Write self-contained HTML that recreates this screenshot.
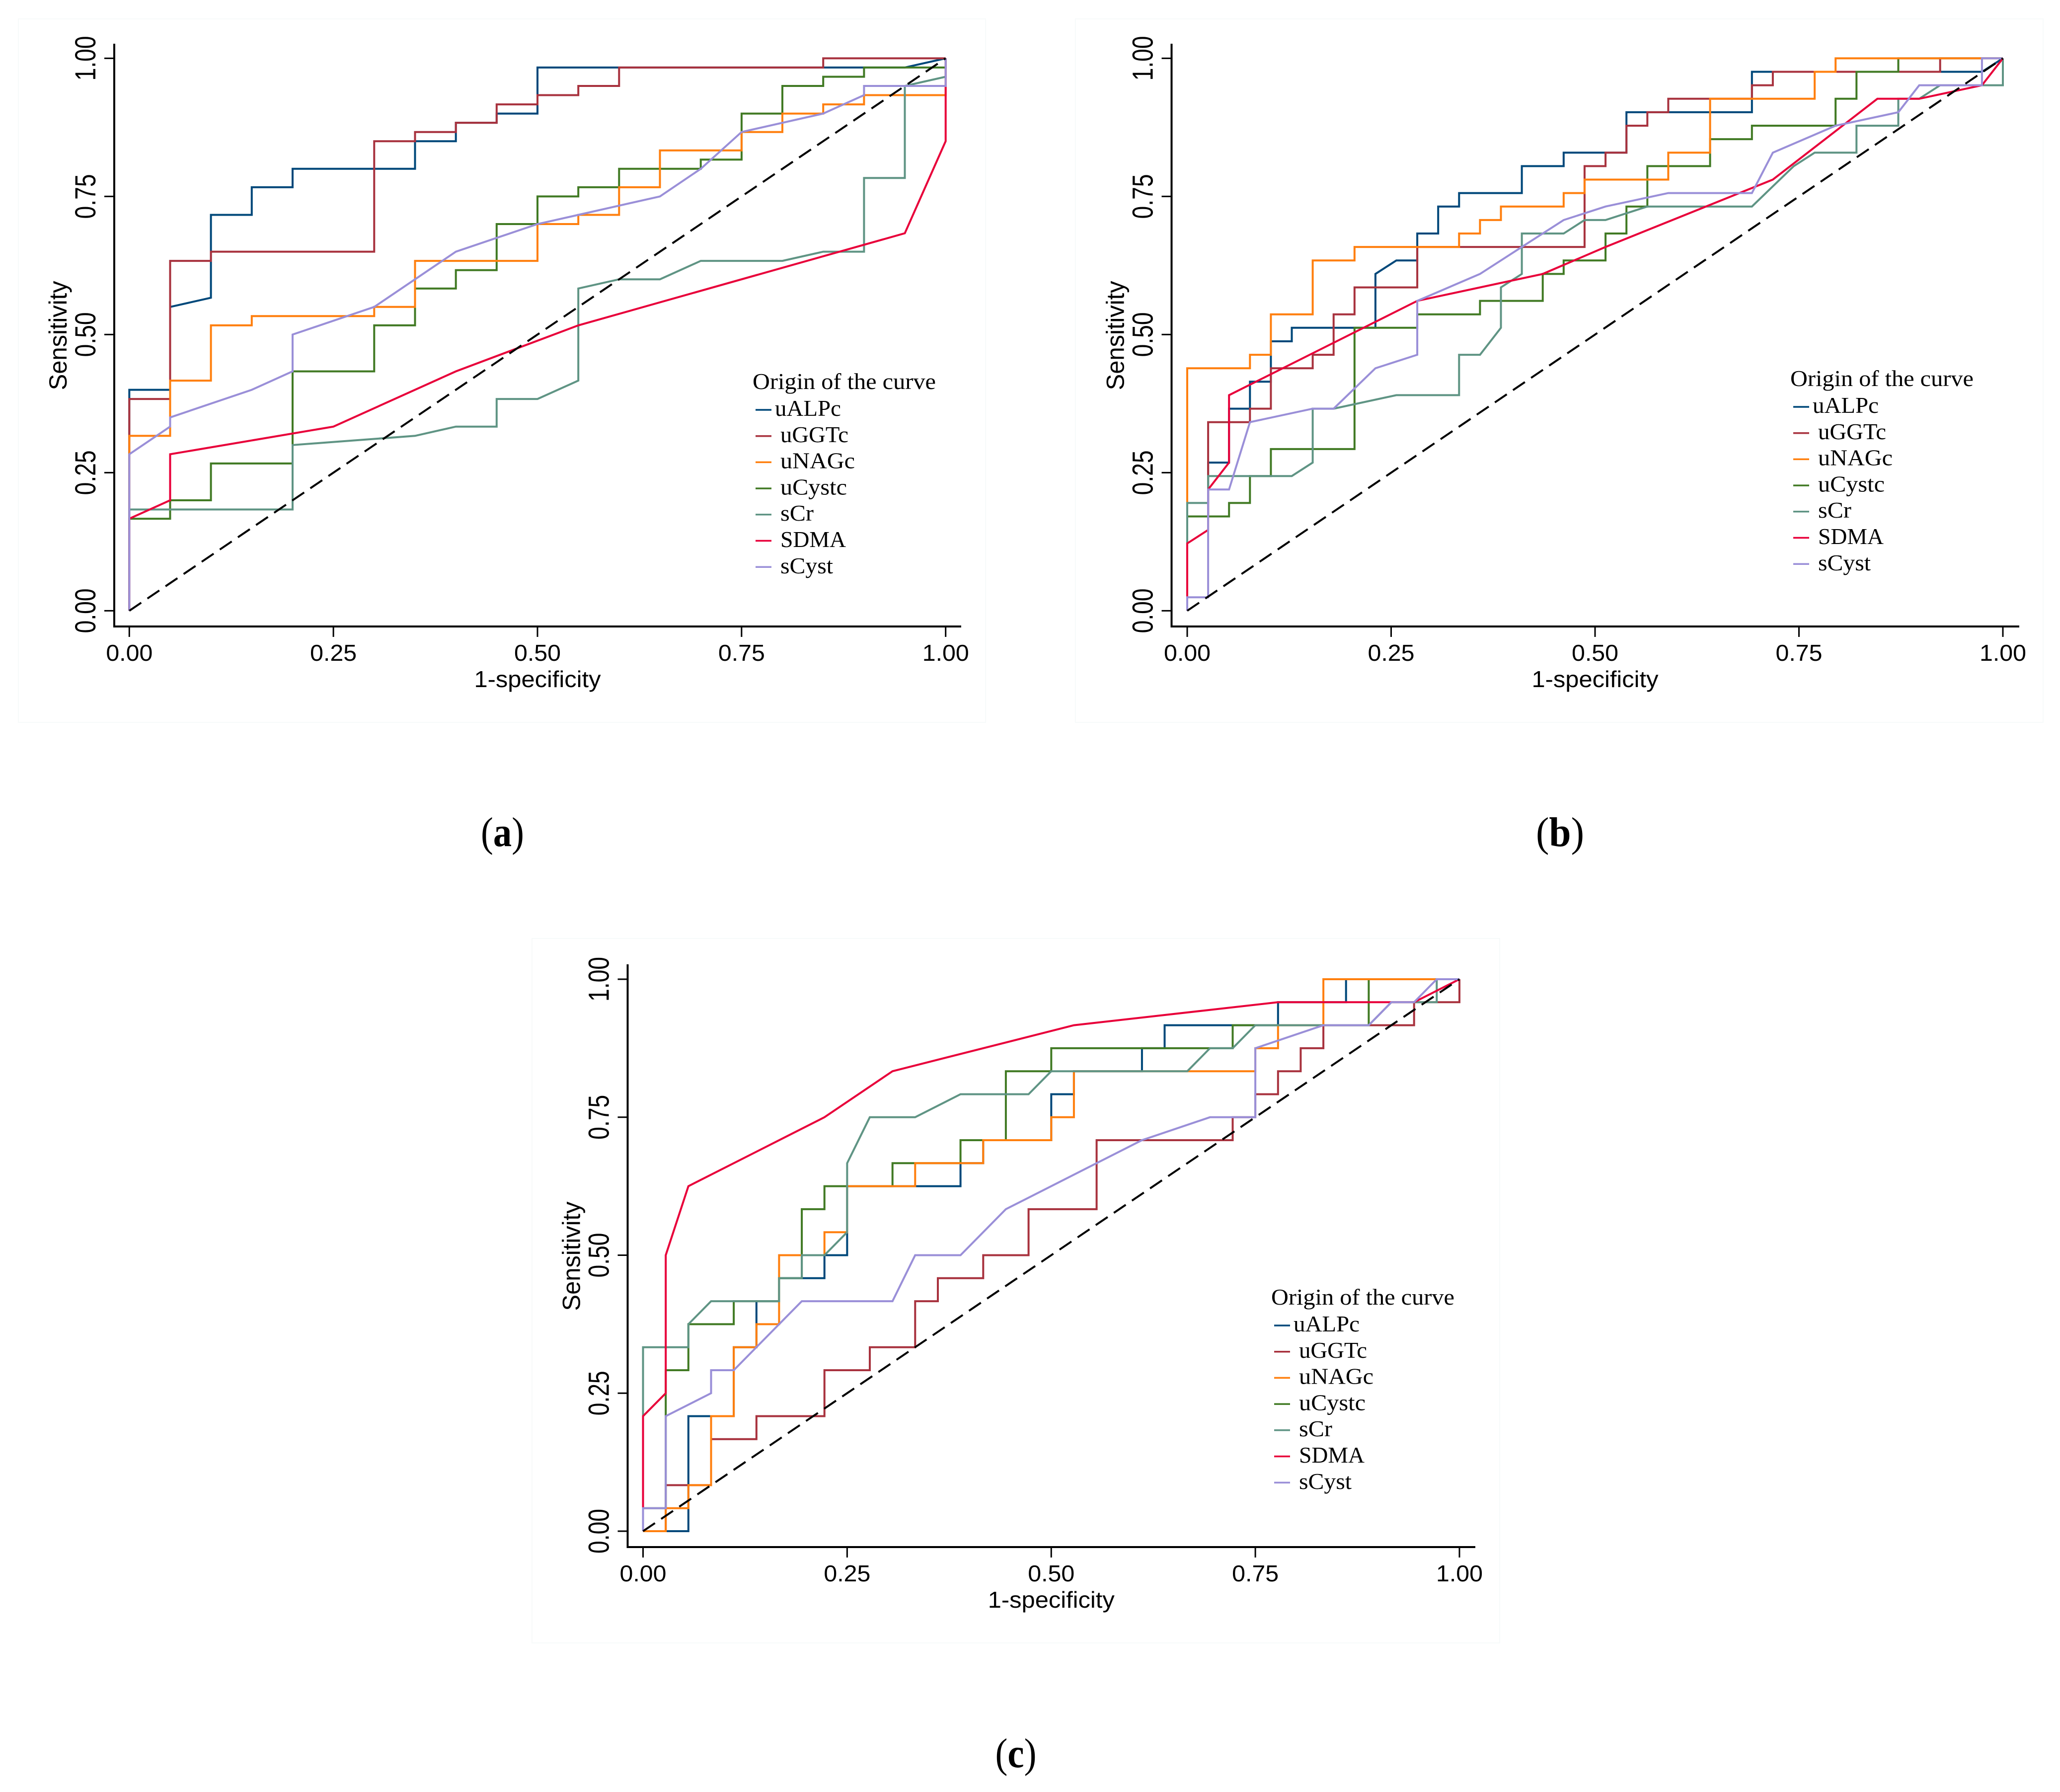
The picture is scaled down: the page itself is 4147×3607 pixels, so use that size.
<!DOCTYPE html>
<html lang="en">
<head>
<meta charset="utf-8">
<title>ROC curves by origin of the curve</title>
<style>
html,body{margin:0;padding:0;background:#fff}
svg{display:block}
.sans{font-family:"Liberation Sans",Arial,sans-serif;fill:#000}
.serif{font-family:"Liberation Serif","Times New Roman",serif;fill:#000}
</style>
</head>
<body>
<svg id="figure" xmlns="http://www.w3.org/2000/svg" width="4147" height="3607" viewBox="0 0 4147 3607">
<rect x="0" y="0" width="4147" height="3607" fill="#ffffff"/>
</svg>
<script>
// Shared labels
const seriesNames = ["uALPc","uGGTc","uNAGc","uCystc","sCr","SDMA","sCyst"];
const xTickValues = [0,0.25,0.5,0.75,1];
const yTickValues = [0,0.25,0.5,0.75,1];
const tickLabels = ["0.00","0.25","0.50","0.75","1.00"];

// Each curve is a list of [false positives, true positives] counts.
// Panel (a): 20 negatives, 60 positives
const aNegatives = 20, aPositives = 60;
const a_uALPc = [[0,0],[0,24],[1,24],[1,33],[2,34],[2,43],[3,43],[3,46],[4,46],[4,48],[7,48],[7,51],[8,51],[8,53],[9,53],[9,54],[10,54],[10,59],[19,59],[20,60]];
const a_uGGTc = [[0,0],[0,23],[1,23],[1,38],[2,38],[2,39],[6,39],[6,51],[7,51],[7,52],[8,52],[8,53],[9,53],[9,55],[10,55],[10,56],[11,56],[11,57],[12,57],[12,59],[17,59],[17,60],[20,60]];
const a_uNAGc = [[0,0],[0,19],[1,19],[1,25],[2,25],[2,31],[3,31],[3,32],[6,32],[6,33],[7,33],[7,38],[10,38],[10,42],[11,42],[11,43],[12,43],[12,46],[13,46],[13,50],[15,50],[15,52],[16,52],[16,54],[17,54],[17,55],[18,55],[18,56],[20,56],[20,60]];
const a_uCystc = [[0,0],[0,10],[1,10],[1,12],[2,12],[2,16],[4,16],[4,26],[6,26],[6,31],[7,31],[7,35],[8,35],[8,37],[9,37],[9,42],[10,42],[10,45],[11,45],[11,46],[12,46],[12,48],[14,48],[14,49],[15,49],[15,54],[16,54],[16,57],[17,57],[17,58],[18,58],[18,59],[20,59],[20,60]];
const a_sCr = [[0,0],[0,11],[4,11],[4,18],[7,19],[8,20],[9,20],[9,23],[10,23],[11,25],[11,35],[12,36],[13,36],[14,38],[16,38],[17,39],[18,39],[18,47],[19,47],[19,57],[20,58],[20,60]];
const a_SDMA = [[0,0],[0,10],[1,12],[1,17],[5,20],[8,26],[11,31],[19,41],[20,51],[20,60]];
const a_sCyst = [[0,0],[0,17],[1,20],[1,21],[3,24],[4,26],[4,30],[6,33],[8,39],[10,42],[11,43],[12,44],[13,45],[14,48],[15,52],[17,54],[18,56],[18,57],[20,57],[20,60]];

// Panel (b): 39 negatives, 41 positives
const bNegatives = 39, bPositives = 41;
const b_uALPc = [[0,0],[0,7],[1,7],[1,11],[2,11],[2,15],[3,15],[3,17],[4,17],[4,20],[5,20],[5,21],[9,21],[9,25],[10,26],[11,26],[11,28],[12,28],[12,30],[13,30],[13,31],[16,31],[16,33],[18,33],[18,34],[21,34],[21,37],[27,37],[27,40],[38,40],[39,41]];
const b_uGGTc = [[0,0],[0,7],[1,7],[1,14],[3,14],[3,15],[4,15],[4,18],[6,18],[6,19],[7,19],[7,22],[8,22],[8,24],[11,24],[11,27],[19,27],[19,33],[20,33],[20,34],[21,34],[21,36],[22,36],[22,37],[23,37],[23,38],[27,38],[27,39],[28,39],[28,40],[36,40],[36,41],[39,41]];
const b_uNAGc = [[0,0],[0,18],[3,18],[3,19],[4,19],[4,22],[6,22],[6,26],[8,26],[8,27],[13,27],[13,28],[14,28],[14,29],[15,29],[15,30],[18,30],[18,31],[19,31],[19,32],[23,32],[23,34],[25,34],[25,38],[30,38],[30,40],[31,40],[31,41],[39,41]];
const b_uCystc = [[0,0],[0,7],[2,7],[2,8],[3,8],[3,10],[4,10],[4,12],[8,12],[8,21],[11,21],[11,22],[14,22],[14,23],[17,23],[17,25],[18,25],[18,26],[20,26],[20,28],[21,28],[21,30],[22,30],[22,33],[25,33],[25,35],[27,35],[27,36],[31,36],[31,38],[32,38],[32,40],[34,40],[34,41],[39,41]];
const b_sCr = [[0,0],[0,8],[1,8],[1,10],[5,10],[6,11],[6,15],[7,15],[10,16],[13,16],[13,19],[14,19],[15,21],[15,24],[16,25],[16,28],[18,28],[19,29],[20,29],[22,30],[27,30],[29,33],[30,34],[32,34],[32,36],[34,36],[34,38],[35,38],[36,39],[39,39],[39,41]];
const b_SDMA = [[0,0],[0,5],[1,6],[1,9],[2,11],[2,16],[11,23],[17,25],[20,27],[28,32],[33,38],[35,38],[38,39],[39,41]];
const b_sCyst = [[0,0],[0,1],[1,1],[1,9],[2,9],[3,14],[6,15],[7,15],[9,18],[11,19],[11,23],[14,25],[16,27],[18,29],[20,30],[23,31],[27,31],[28,34],[31,36],[34,37],[35,39],[38,39],[38,41],[39,41]];

// Panel (c): 36 negatives, 24 positives
const cNegatives = 36, cPositives = 24;
const c_uALPc = [[0,0],[2,0],[2,5],[4,5],[4,8],[5,8],[5,10],[6,10],[6,11],[8,11],[8,12],[9,12],[9,15],[14,15],[14,16],[15,16],[15,17],[18,17],[18,19],[19,19],[19,20],[22,20],[22,21],[23,21],[23,22],[28,22],[28,23],[31,23],[31,24],[36,24]];
const c_uGGTc = [[0,0],[1,0],[1,2],[3,2],[3,4],[5,4],[5,5],[8,5],[8,7],[10,7],[10,8],[12,8],[12,10],[13,10],[13,11],[15,11],[15,12],[17,12],[17,14],[20,14],[20,17],[26,17],[26,18],[27,18],[27,19],[28,19],[28,20],[29,20],[29,21],[30,21],[30,22],[34,22],[34,23],[36,23],[36,24]];
const c_uNAGc = [[0,0],[1,0],[1,1],[2,1],[2,2],[3,2],[3,5],[4,5],[4,8],[5,8],[5,9],[6,9],[6,12],[8,12],[8,13],[9,13],[9,15],[12,15],[12,16],[15,16],[15,17],[18,17],[18,18],[19,18],[19,20],[27,20],[27,21],[28,21],[28,22],[30,22],[30,24],[36,24]];
const c_uCystc = [[0,0],[0,1],[1,1],[1,7],[2,7],[2,9],[4,9],[4,10],[6,10],[6,11],[7,11],[7,14],[8,14],[8,15],[11,15],[11,16],[14,16],[14,17],[16,17],[16,20],[18,20],[18,21],[26,21],[26,22],[32,22],[32,24],[36,24]];
const c_sCr = [[0,0],[0,8],[2,8],[2,9],[3,10],[6,10],[6,11],[7,11],[7,12],[8,12],[9,13],[9,16],[10,18],[12,18],[14,19],[17,19],[18,20],[24,20],[25,21],[26,21],[27,22],[32,22],[33,23],[35,23],[35,24],[36,24]];
const c_SDMA = [[0,0],[0,5],[1,6],[1,12],[2,15],[8,18],[11,20],[19,22],[28,23],[34,23],[36,24]];
const c_sCyst = [[0,0],[0,1],[1,1],[1,5],[3,6],[3,7],[4,7],[7,10],[11,10],[12,12],[14,12],[16,14],[22,17],[25,18],[27,18],[27,21],[30,22],[32,22],[33,23],[34,23],[35,24],[36,24]];

// Appearance and layout (not data)
const seriesColors = ["#00487a","#a8323e","#ff7f0e","#417a24","#5f9484","#e8003a","#9a8fd8"];
const drawOrder = [0,1,3,2,4,5,6];
const legendWidths = [133,137,150,134,67,132,106];
const layouts = [
  {id:"a", curves:[a_uALPc,a_uGGTc,a_uNAGc,a_uCystc,a_sCr,a_SDMA,a_sCyst], nNeg:aNegatives, nPos:aPositives,
   x0:260.3,x1:1903.7,y0:1229.4,y1:117.4,axisLeft:230,axisBottom:1261,axisRight:1935,axisTop:88,
   box:[37,38,1947,1416], legendX:1515, legendY:783, capX:1011.5, capY:1703, capW:87},
  {id:"b", curves:[b_uALPc,b_uGGTc,b_uNAGc,b_uCystc,b_sCr,b_SDMA,b_sCyst], nNeg:bNegatives, nPos:bPositives,
   x0:2390,x1:4032,y0:1229.4,y1:117.4,axisLeft:2358.5,axisBottom:1261,axisRight:4065,axisTop:88,
   box:[2165,38,1948,1416], legendX:3604, legendY:777, capX:3140.5, capY:1703, capW:97},
  {id:"c", curves:[c_uALPc,c_uGGTc,c_uNAGc,c_uCystc,c_sCr,c_SDMA,c_sCyst], nNeg:cNegatives, nPos:cPositives,
   x0:1294.5,x1:2938,y0:3082,y1:1971,axisLeft:1263.5,axisBottom:3114,axisRight:2970,axisTop:1941,
   box:[1071,1889,1948,1418], legendX:2559, legendY:2626, capX:2045, capY:3557, capW:83}
];

const NS = "http://www.w3.org/2000/svg";
const root = document.getElementById("figure");

function makeLine(parent, name, x1, y1, x2, y2, color, width) {
  const el = document.createElementNS(NS, "line");
  
  
  el.setAttribute("x1", x1);
  el.setAttribute("y1", y1);
  el.setAttribute("x2", x2);
  el.setAttribute("y2", y2);
  el.setAttribute("stroke", color);
  el.setAttribute("stroke-width", width);
  parent.appendChild(el);
  return el;
}

function makeText(parent, name, cls, content, x, y, size, length, anchor, rotate) {
  const el = document.createElementNS(NS, "text");
  
  
  el.setAttribute("class", cls);
  el.setAttribute("font-size", size);
  el.setAttribute("text-anchor", anchor);
  el.setAttribute("textLength", length);
  el.setAttribute("lengthAdjust", "spacingAndGlyphs");
  el.setAttribute("transform", "translate(" + x + " " + y + ")" + (rotate ? " rotate(-90)" : ""));
  el.textContent = content;
  parent.appendChild(el);
  return el;
}

layouts.forEach(function (p) {
  const sx = function (v) { return p.x0 + v * (p.x1 - p.x0); };
  const sy = function (v) { return p.y0 + v * (p.y1 - p.y0); };

  const g = document.createElementNS(NS, "g");
  
  
  root.appendChild(g);

  const frame = document.createElementNS(NS, "rect");
  
  
  frame.setAttribute("x", p.box[0]);
  frame.setAttribute("y", p.box[1]);
  frame.setAttribute("width", p.box[2]);
  frame.setAttribute("height", p.box[3]);
  frame.setAttribute("fill", "none");
  frame.setAttribute("stroke", "#f7fafa");
  frame.setAttribute("stroke-width", "2");
  g.appendChild(frame);

  // axes
  makeLine(g, 'y-axis-line-' + p.id, p.axisLeft, p.axisTop, p.axisLeft, p.axisBottom + 2, "#000", 4);
  makeLine(g, 'x-axis-line-' + p.id, p.axisLeft - 2, p.axisBottom, p.axisRight, p.axisBottom, "#000", 4);

  yTickValues.forEach(function (v, i) {
    makeLine(g, 'y-tick-' + tickLabels[i] + '-' + p.id, p.axisLeft - 20, sy(v), p.axisLeft, sy(v), "#000", 3);
    makeText(g, 'y-tick-label-' + tickLabels[i] + '-' + p.id, "sans", tickLabels[i], p.axisLeft - 38, sy(v), 58, 90, "middle", true);
  });
  xTickValues.forEach(function (v, i) {
    makeLine(g, 'x-tick-' + tickLabels[i] + '-' + p.id, sx(v), p.axisBottom, sx(v), p.axisBottom + 21, "#000", 3);
    makeText(g, 'x-tick-label-' + tickLabels[i] + '-' + p.id, "sans", tickLabels[i], sx(v), p.axisBottom + 69, 46, 94, "middle", false);
  });

  makeText(g, 'y-axis-title-' + p.id, "sans", "Sensitivity", p.axisLeft - 96, (p.y0 + p.y1) / 2 + 2, 50, 220, "middle", true);
  makeText(g, 'x-axis-title-' + p.id, "sans", "1-specificity", (p.x0 + p.x1) / 2, p.axisBottom + 122, 46, 255, "middle", false);

  // curves
  drawOrder.forEach(function (k) {
    const curve = p.curves[k];
    const pts = curve.map(function (c) {
      return sx(c[0] / p.nNeg).toFixed(1) + "," + sy(c[1] / p.nPos).toFixed(1);
    }).join(" ");
    const el = document.createElementNS(NS, "polyline");
    
    
    el.setAttribute("points", pts);
    el.setAttribute("fill", "none");
    el.setAttribute("stroke", seriesColors[k]);
    el.setAttribute("stroke-width", "4");
    el.setAttribute("stroke-linejoin", "miter");
    g.appendChild(el);
  });

  // reference diagonal
  const ref = makeLine(g, 'reference-diagonal-' + p.id, sx(0), sy(0), sx(1), sy(1), "#000", 4);
  ref.setAttribute("stroke-dasharray", "29 15");

  // legend
  const lg = document.createElementNS(NS, "g");
  
  
  g.appendChild(lg);
  makeText(lg, 'legend-title-' + p.id, "serif", "Origin of the curve", p.legendX, p.legendY, 46, 369, "start", false);
  seriesNames.forEach(function (name, k) {
    const ly = p.legendY + 42 + 52.7 * k;
    makeLine(lg, 'legend-swatch-' + name + '-' + p.id, p.legendX + 6, ly, p.legendX + 38, ly, seriesColors[k], 3.5);
    makeText(lg, 'legend-label-' + name + '-' + p.id, "serif", name, p.legendX + (k === 0 ? 45 : 56), p.legendY + 54 + 52.8 * k, 46, legendWidths[k], "start", false);
  });

  // caption: regular parentheses, bold letter
  const cap = makeText(g, 'panel-caption-' + p.id, "serif", "", p.capX, p.capY, 84, p.capW, "middle", false);
  const open = document.createElementNS(NS, "tspan");
  open.textContent = "(";
  cap.appendChild(open);
  const letter = document.createElementNS(NS, "tspan");
  letter.setAttribute("font-weight", "bold");
  letter.textContent = p.id;
  cap.appendChild(letter);
  const close = document.createElementNS(NS, "tspan");
  close.textContent = ")";
  cap.appendChild(close);
});
</script>
</body>
</html>
